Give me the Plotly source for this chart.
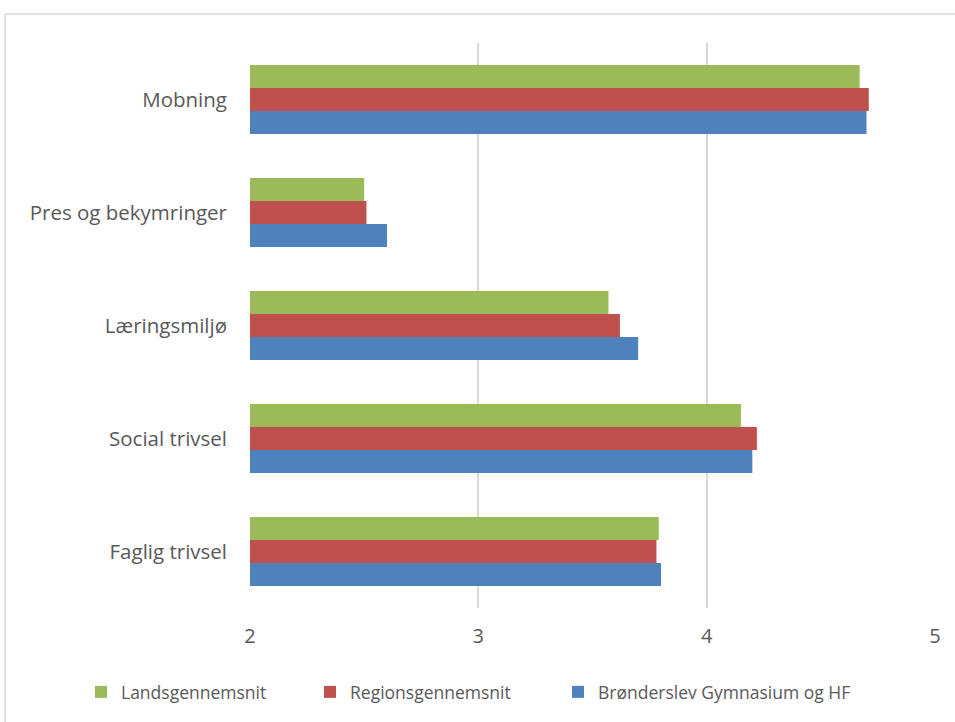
import plotly.graph_objects as go

categories = ["Faglig trivsel", "Social trivsel", "Læringsmiljø", "Pres og bekymringer", "Mobning"]
brønderslev = [3.80, 4.20, 3.70, 2.60, 4.70]
region = [3.78, 4.22, 3.62, 2.51, 4.71]
lands = [3.79, 4.15, 3.57, 2.50, 4.67]

W, H = 955, 722
L, R, T, B = 250, 20, 43, 114
pw, ph = W - L - R, H - T - B

fig = go.Figure()
fig.add_trace(go.Bar(y=categories, x=brønderslev, orientation="h", name="Brønderslev Gymnasium og HF",
                     marker=dict(color="#4F81BD", line=dict(width=0)), legend="legend3"))
fig.add_trace(go.Bar(y=categories, x=region, orientation="h", name="Regionsgennemsnit",
                     marker=dict(color="#C0504D", line=dict(width=0)), legend="legend2"))
fig.add_trace(go.Bar(y=categories, x=lands, orientation="h", name="Landsgennemsnit",
                     marker=dict(color="#9BBB59", line=dict(width=0)), legend="legend"))

top_y = 14
left_x = 5
leg_y = (H - 692) / H


def leg(px):
    return dict(orientation="h", x=(px - 17) / W, xanchor="left", xref="container",
                y=leg_y, yref="container", yanchor="middle",
                font=dict(size=17.5, color="#595959"), itemwidth=30, bgcolor="rgba(0,0,0,0)")


fig.update_layout(
    width=W, height=H,
    margin=dict(l=L, r=R, t=T, b=B),
    paper_bgcolor="white", plot_bgcolor="white",
    barmode="group", bargap=0.39, bargroupgap=0,
    font=dict(family="Open Sans, sans-serif", size=21, color="#595959"),
    showlegend=True,
    legend=leg(98), legend2=leg(327), legend3=leg(575),
    xaxis=dict(range=[2, 5], dtick=1, tick0=2, showgrid=True, gridcolor="#D9D9D9", gridwidth=1.5,
               zeroline=False, showline=False, ticks="", ticklabelstandoff=14,
               tickfont=dict(size=20, color="#595959")),
    yaxis=dict(categoryorder="array", categoryarray=categories, showgrid=False, zeroline=False,
               showline=False, ticks="", ticklabelstandoff=22,
               tickfont=dict(size=20.5, color="#595959")),
    shapes=[
        dict(type="line", xref="paper", yref="paper",
             x0=(left_x - L) / pw, x1=(W - L) / pw, y0=(H - B - top_y) / ph, y1=(H - B - top_y) / ph,
             line=dict(color="#D9D9D9", width=1.5)),
        dict(type="line", xref="paper", yref="paper",
             x0=(left_x - L) / pw, x1=(left_x - L) / pw, y0=(H - B - top_y) / ph, y1=(H - B - H) / ph,
             line=dict(color="#D9D9D9", width=1.5)),
    ],
)

fig.write_html("out.html", config={"displayModeBar": False},
               post_script="document.body.style.margin='0';document.body.style.overflow='hidden';")
